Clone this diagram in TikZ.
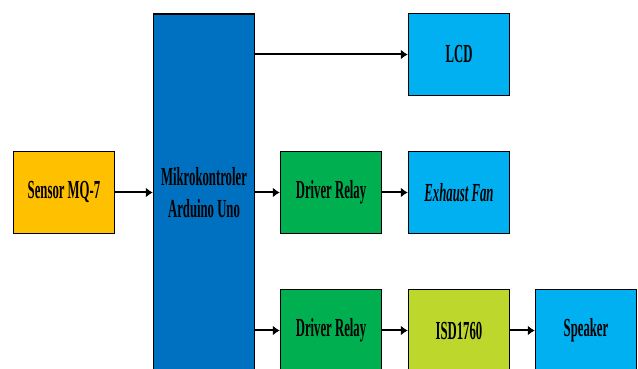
\documentclass[tikz,border=0pt]{standalone}
\usepackage{fontspec}
\setmainfont[FakeStretch=0.49]{Liberation Serif}
\usetikzlibrary{arrows.meta,positioning}
\definecolor{gold}{RGB}{255,192,0}
\definecolor{mcublue}{RGB}{0,112,192}
\definecolor{relaygreen}{RGB}{0,176,80}
\definecolor{skyblue}{RGB}{0,176,240}
\definecolor{limey}{RGB}{190,215,45}

\begin{document}
\begin{tikzpicture}[x=1pt,y=1pt,>={Latex[length=7pt,width=10pt]},
  blok/.style={draw,line width=1.5pt,minimum width=101pt,minimum height=82pt,align=center,inner sep=0pt,font=\fontsize{26}{32}\selectfont\bfseries},
  panah/.style={->,line width=2pt}]
\useasboundingbox (0,0) rectangle (638,369);
\clip (0,0) rectangle (638,369);
\node[blok,fill=gold] (sensor) at (64,176.5) {Sensor MQ-7};
\node[blok,fill=mcublue,minimum height=357pt] (mcu) at (204,176.5) {Mikrokontroler\\Arduino Uno};
\node[blok,fill=skyblue] (lcd) at (459,314.5) {LCD};
\node[blok,fill=relaygreen] (relay1) at (331,176.5) {Driver Relay};
\node[blok,fill=skyblue] (fan) at (459,176.5) {\itshape Exhaust Fan};
\node[blok,fill=relaygreen] (relay2) at (331,38.5) {Driver Relay};
\node[blok,fill=limey] (isd) at (459,38.5) {ISD1760};
\node[blok,fill=skyblue] (speaker) at (586,38.5) {Speaker};
\draw[panah] (sensor) -- (mcu.west |- sensor);
\draw[panah] (mcu.east |- lcd) -- (lcd);
\draw[panah] (mcu.east |- relay1) -- (relay1);
\draw[panah] (relay1) -- (fan);
\draw[panah] (mcu.east |- relay2) -- (relay2);
\draw[panah] (relay2) -- (isd);
\draw[panah] (isd) -- (speaker);
\end{tikzpicture}
\end{document}
